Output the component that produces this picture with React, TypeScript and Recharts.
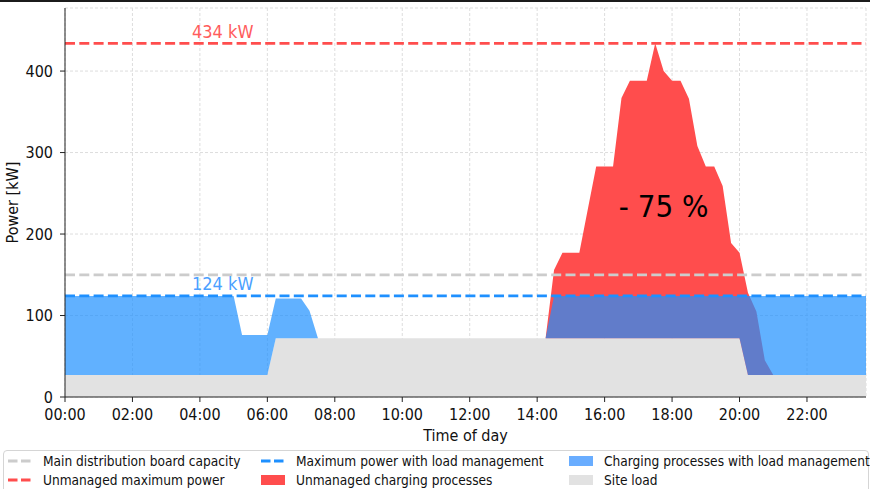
import {
  Area,
  CartesianGrid,
  ComposedChart,
  ReferenceDot,
  ReferenceLine,
  XAxis,
  YAxis,
} from "recharts"

// 15-minute slots, 00:00 .. 23:45
const slots = Array.from({ length: 96 }, (_, i) => i / 4)

// site load [kW]
const siteLoad = [
  27, 27, 27, 27, 27, 27, 27, 27,
  27, 27, 27, 27, 27, 27, 27, 27,
  27, 27, 27, 27, 27, 27, 27, 27,
  27, 72, 72, 72, 72, 72, 72, 72,
  72, 72, 72, 72, 72, 72, 72, 72,
  72, 72, 72, 72, 72, 72, 72, 72,
  72, 72, 72, 72, 72, 72, 72, 72,
  72, 72, 72, 72, 72, 72, 72, 72,
  72, 72, 72, 72, 72, 72, 72, 72,
  72, 72, 72, 72, 72, 72, 72, 72,
  72, 27, 27, 27, 27, 27, 27, 27,
  27, 27, 27, 27, 27, 27, 27, 27,
]

// total power with load management (site + charging) [kW]
const managedTotal = [
  124, 124, 124, 124, 124, 124, 124, 124,
  124, 124, 124, 124, 124, 124, 124, 124,
  124, 124, 124, 124, 124, 76, 76, 76,
  76, 121, 121, 121, 121, 106, 72, 72,
  72, 72, 72, 72, 72, 72, 72, 72,
  72, 72, 72, 72, 72, 72, 72, 72,
  72, 72, 72, 72, 72, 72, 72, 72,
  72, 72, 124, 124, 124, 124, 124, 124,
  124, 124, 124, 124, 124, 124, 124, 124,
  124, 124, 124, 124, 124, 124, 124, 124,
  124, 124, 124, 124, 124, 124, 124, 124,
  124, 124, 124, 124, 124, 124, 124, 124,
]

// total power without load management (site + charging) [kW]
const unmanagedTotal = [
  27, 27, 27, 27, 27, 27, 27, 27,
  27, 27, 27, 27, 27, 27, 27, 27,
  27, 27, 27, 27, 27, 27, 27, 27,
  27, 72, 72, 72, 72, 72, 72, 72,
  72, 72, 72, 72, 72, 72, 72, 72,
  72, 72, 72, 72, 72, 72, 72, 72,
  72, 72, 72, 72, 72, 72, 72, 72,
  72, 72, 156, 177, 177, 177, 230, 283,
  283, 283, 367, 388, 388, 388, 434, 400,
  388, 388, 366, 308, 283, 283, 259, 189,
  177, 128, 105, 45, 27, 27, 27, 27,
  27, 27, 27, 27, 27, 27, 27, 27,
]

const boardCapacity = 150
const managedMax = 124
const unmanagedMax = 434
const reduction = { hour: 17.75, kw: 234, text: "- 75 %" }

const xTicks = [0, 2, 4, 6, 8, 10, 12, 14, 16, 18, 20, 22]
const yTicks = [0, 100, 200, 300, 400]

const data = slots.map((h, i) => ({
  h,
  site: siteLoad[i],
  red: [siteLoad[i], unmanagedTotal[i]],
  blue: [siteLoad[i], managedTotal[i]],
}))

const FONT = "'DejaVu Sans Condensed', 'DejaVu Sans', sans-serif"
const GREY_LINE = "#cccccc"
const BLUE = "#1e90ff"
const RED = "#ff4d4d"
const SITE = "#e2e2e2"
const DASH = "10 4.3"

const fmtHour = (h: number) => `${String(h).padStart(2, "0")}:00`

function LegendIcon({ kind, color }: { kind: string; color: string }) {
  if (kind === "dash") {
    return (
      <svg width={24} height={10} style={{ display: "block" }}>
        <line x1={0} y1={5} x2={24} y2={5} stroke={color} strokeWidth={2.8} strokeDasharray="9.5 3.5" />
      </svg>
    )
  }
  return (
    <svg width={24} height={10} style={{ display: "block" }}>
      <rect x={0} y={0} width={24} height={10} fill={color} />
    </svg>
  )
}

const legendCols = [
  [
    { label: "Main distribution board capacity", kind: "dash", color: GREY_LINE },
    { label: "Unmanaged maximum power", kind: "dash", color: RED },
  ],
  [
    { label: "Maximum power with load management", kind: "dash", color: BLUE },
    { label: "Unmanaged charging processes", kind: "patch", color: RED },
  ],
  [
    { label: "Charging processes with load management", kind: "patch", color: "#69adff" },
    { label: "Site load", kind: "patch", color: SITE },
  ],
]
const colLeft = [7, 260, 568]

function ChartLegend() {
  return (
    <div
      style={{
        position: "absolute",
        left: 3,
        top: 450,
        width: 864,
        height: 48,
        border: "1px solid #d5d5d5",
        borderRadius: 4,
        background: "#fff",
        fontFamily: FONT,
        fontSize: 13.6,
        color: "#111",
      }}
    >
      {legendCols.map((col, c) =>
        col.map((item, r) => (
          <div
            key={item.label}
            style={{
              position: "absolute",
              left: colLeft[c] - 3,
              top: 1 + r * 18.5,
              height: 18,
              display: "flex",
              alignItems: "center",
              whiteSpace: "nowrap",
            }}
          >
            <LegendIcon kind={item.kind} color={item.color} />
            <span style={{ marginLeft: 11 }}>{item.label}</span>
          </div>
        ))
      )}
    </div>
  )
}

export default function App() {
  return (
    <div style={{ position: "absolute", left: 0, top: 0, width: 870, height: 489, background: "#fff", overflow: "hidden", fontFamily: FONT }}>
      <div style={{ position: "absolute", left: 0, top: 0, width: 870, height: 2, background: "#1b1b1b" }} />
      <ComposedChart
        width={870}
        height={489}
        data={data}
        margin={{ top: 8, right: 4, bottom: 42, left: 0 }}
        style={{ fontFamily: FONT }}
      >
        <CartesianGrid stroke="#dddddd" strokeDasharray="3 2" />
        <XAxis
          dataKey="h"
          type="number"
          domain={[0, 23.75]}
          ticks={xTicks}
          tickFormatter={fmtHour}
          height={50}
          tickSize={5}
          tickMargin={7}
          stroke="#222"
          tick={{ fill: "#111", fontSize: 16, fontFamily: FONT }}
          label={{ value: "Time of day", position: "insideBottom", offset: 6, fill: "#111", fontSize: 16, fontFamily: FONT }}
        />
        <XAxis xAxisId="top" orientation="top" dataKey="h" type="number" domain={[0, 23.75]} height={0} tick={false} tickLine={false} stroke="#222" />
        <YAxis
          type="number"
          domain={[0, 477.4]}
          ticks={yTicks}
          width={65}
          tickSize={5}
          tickMargin={7}
          stroke="#222"
          tick={{ fill: "#111", fontSize: 16, fontFamily: FONT }}
          label={{ value: "Power [kW]", angle: -90, position: "center", dx: -20, fill: "#111", fontSize: 16, fontFamily: FONT }}
        />
        <YAxis yAxisId="right" orientation="right" width={0} tick={false} tickLine={false} stroke="#222" domain={[0, 477.4]} />
        <Area dataKey="site" type="linear" fill={SITE} fillOpacity={1} stroke="none" isAnimationActive={false} />
        <Area dataKey="red" type="linear" fill={RED} fillOpacity={1} stroke="none" isAnimationActive={false} />
        <Area dataKey="blue" type="linear" fill={BLUE} fillOpacity={0.7} stroke="none" isAnimationActive={false} />
        <ReferenceLine y={boardCapacity} stroke={GREY_LINE} strokeWidth={2.8} strokeDasharray={DASH} />
        <ReferenceLine
          y={managedMax}
          stroke={BLUE}
          strokeWidth={2.8}
          strokeDasharray={DASH}
          label={{ value: `${managedMax} kW`, position: "insideLeft", dx: 122, dy: -12, fill: "#4ba0ff", fontSize: 18, fontFamily: FONT }}
        />
        <ReferenceLine
          y={unmanagedMax}
          stroke={RED}
          strokeWidth={2.8}
          strokeDasharray={DASH}
          label={{ value: `${unmanagedMax} kW`, position: "insideLeft", dx: 122, dy: -12, fill: "#ff5c5c", fontSize: 18, fontFamily: FONT }}
        />
        <ReferenceDot
          x={reduction.hour}
          y={reduction.kw}
          r={0}
          fill="none"
          stroke="none"
          label={{ value: reduction.text, position: "center", fill: "#000", fontSize: 31, fontFamily: FONT }}
        />
      </ComposedChart>
      <ChartLegend />
    </div>
  )
}
